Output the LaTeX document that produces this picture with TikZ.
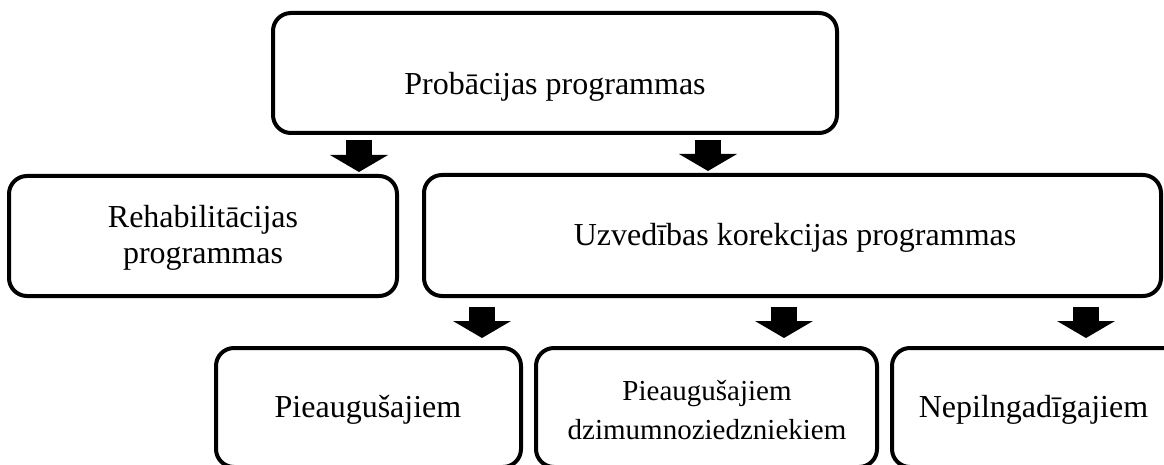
\documentclass[tikz,border=0pt]{standalone}
\usepackage{fontspec}
\setmainfont{Liberation Serif}
\usetikzlibrary{arrows.meta}
\tikzset{
  box/.style={draw=black, line width=4pt, rounded corners=18pt, outer sep=0pt, inner sep=0pt},
  lbl/.style={font=\fontsize{32}{36}\selectfont, inner sep=0pt, align=center},
  lblsmall/.style={font=\fontsize{29}{39}\selectfont, inner sep=0pt, align=center},
  bigarrow/.style={line width=26pt, -{Triangle[width=58pt,length=17pt,line width=0pt]}},
}
\begin{document}
\begin{tikzpicture}[x=1pt,y=-1pt]
\useasboundingbox (0,0) rectangle (1164,465);
% boxes
\node[box, minimum width=564pt, minimum height=120pt] (top) at (555,73) {};
\node[box, minimum width=388pt, minimum height=120pt] (rehab) at (203,236) {};
\node[box, minimum width=737pt, minimum height=121pt] (uzved) at (792.5,235.5) {};
\node[box, minimum width=305pt, minimum height=119pt] (b1) at (368.5,407.5) {};
\node[box, minimum width=341pt, minimum height=119pt] (b2) at (706.5,407.5) {};
\node[box, minimum width=298pt, minimum height=119pt] (b3) at (1041,407.5) {};
% texts
\node[lbl, anchor=base] (ttop) at (555,95) {Probācijas programmas};
\node[lbl] (trehab) at (203,238) {Rehabilitācijas\\programmas};
\node[lbl, anchor=base] (tuzved) at (795,245) {Uzvedības korekcijas programmas};
\node[lbl, anchor=base] (tb1) at (368,417) {Pieaugušajiem};
\node[lblsmall] (tb2) at (707,410) {Pieaugušajiem\\dzimumnoziedzniekiem};
\node[lbl, anchor=base] (tb3) at (1033.5,417) {Nepilngadīgajiem};
% arrow columns
\coordinate (c1) at (359,0);
\coordinate (c2) at (708,0);
\coordinate (c3) at (482,0);
\coordinate (c4) at (784,0);
\coordinate (c5) at (1086,0);
\draw[bigarrow, shorten <=7pt, shorten >=4pt] (top.south -| c1) -- (rehab.north -| c1);
\draw[bigarrow, shorten <=7pt, shorten >=4pt] (top.south -| c2) -- (uzved.north -| c2);
\draw[bigarrow, shorten <=11pt, shorten >=10pt] (uzved.south -| c3) -- (b1.north -| c3);
\draw[bigarrow, shorten <=11pt, shorten >=10pt] (uzved.south -| c4) -- (b2.north -| c4);
\draw[bigarrow, shorten <=11pt, shorten >=10pt] (uzved.south -| c5) -- (b3.north -| c5);
\end{tikzpicture}
\end{document}
